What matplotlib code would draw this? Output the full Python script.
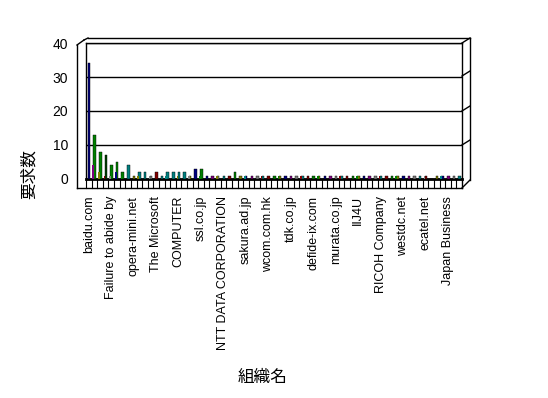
import matplotlib.pyplot as plt
import numpy as np

plt.rcParams["font.family"] = ["Liberation Sans", "Noto Sans CJK JP", "DejaVu Sans"]

# 組織ごとの要求数 (67 組織, 4 つおきにラベル表示)
labels = [
    "baidu.com", "Failure to abide by", "opera-mini.net", "The Microsoft",
    "COMPUTER", "ssl.co.jp", "NTT DATA CORPORATION", "sakura.ad.jp",
    "wcom.com.hk", "tdk.co.jp", "defide-ix.com", "murata.co.jp",
    "IIJ4U", "RICOH Company", "westdc.net", "ecatel.net", "Japan Business",
]
counts = [
    34, 13, 8, 7, 4, 5, 2, 4, 1, 2, 2, 1, 2, 1, 2, 2, 2, 2, 1, 3,
    3, 1, 1, 1, 1, 1, 2, 1, 1, 1, 1, 1, 1, 1, 1, 1, 1, 1, 1, 1,
    1, 1, 1, 1, 1, 1, 1, 1, 1, 1, 1, 1, 1, 1, 1, 1, 1, 1, 1, 1,
    1, 0, 1, 1, 1, 1, 1,
]
# 手前側に重なる小さい系列
sub_counts = [
    0, 4, 2, 1, 1, 2, 1, 0, 0, 1, 0, 1, 0, 0, 1, 0, 1, 0, 1, 0,
    1, 0, 0, 1, 0, 0, 0, 0, 1, 0, 0, 1, 0, 0, 1, 0, 0, 0, 1, 0,
    0, 1, 0, 0, 0, 1, 0, 0, 1, 0, 0, 0, 1, 0, 0, 1, 0, 0, 0, 0,
    1, 0, 0, 1, 0, 0, 0,
]
palette = ["#000080", "#008000", "#008080", "#800080", "#808000", "#800000", "#808080"]
main_colors = ["#000080", "#008000", "#008000", "#004000", "#008000", "#008000",
               "#008000", "#008080", "#808000", "#008080", "#008080", "#808080",
               "#800000", "#008080", "#008080", "#008080", "#008080", "#008080",
               "#808000", "#000080", "#008000"]
main_colors += [palette[(i * 3) % len(palette)] for i in range(len(counts) - len(main_colors))]
sub_colors = [palette[(i + 2) % len(palette)] for i in range(len(counts))]

W, H = 548, 398
fig = plt.figure(figsize=(W / 100, H / 100), dpi=100)


def px(x0, y0, x1, y1):
    return [x0 / W, 1 - y1 / H, (x1 - x0) / W, (y1 - y0) / H]


ax = fig.add_axes(px(86, 43, 462, 179))
x = np.arange(len(counts))
ax.bar(x + 0.05, counts, width=0.45, color=main_colors, edgecolor="black", linewidth=0.3, zorder=3)
ax.bar(x - 0.2, sub_counts, width=0.3, color=sub_colors, linewidth=0, zorder=4)

ax.set_xlim(-0.5, len(counts) - 0.5)
ax.set_ylim(0, 40)
ax.set_yticks([0, 10, 20, 30, 40])
ax.yaxis.grid(True, color="black", linewidth=1.0)
ax.set_axisbelow(True)
ax.tick_params(axis="y", length=0, pad=13, labelsize=10)
ax.set_xticks(x[::4])
ax.set_xticklabels(labels, rotation=90, fontsize=9)
ax.tick_params(axis="x", length=0, pad=12)
for s in ax.spines.values():
    s.set_color("black")
    s.set_linewidth(1.0)
ax.spines["bottom"].set_linewidth(2.0)

ax.set_ylabel("要求数", fontsize=12, family=["Noto Sans CJK JP"])
ax.yaxis.set_label_coords(-0.128, 0.037)
ax.set_xlabel("組織名", fontsize=12, family=["Noto Sans CJK JP"])
ax.xaxis.set_label_coords(0.47, -1.4)

# 擬似3D の枠線 (ピクセル座標)
ov = fig.add_axes([0, 0, 1, 1], facecolor="none")
ov.set_xlim(0, W)
ov.set_ylim(H, 0)
ov.axis("off")
lk = dict(color="black", linewidth=1.0)
ov.plot([88, 470], [38, 38], **lk)
ov.plot([470, 470], [38, 180], **lk)
for gy in [43, 76, 111, 145]:
    ov.plot([462, 470], [gy, gy - 5], **lk)
ov.plot([462, 470], [188, 180], **lk)
ov.plot([77, 77], [45, 188], **lk)
ov.plot([77, 84], [45, 40], **lk)
ov.plot([84, 88], [40, 38], **lk)
ov.plot([77, 462], [188, 188], **lk)
ov.plot([462, 462], [179, 188], **lk)
step = (462 - 86) / len(counts)
for i in range(len(counts)):
    bx = 86 + i * step
    ov.plot([bx, bx], [180, 188], color="black", linewidth=0.8)

fig.savefig("out.png", dpi=100)
